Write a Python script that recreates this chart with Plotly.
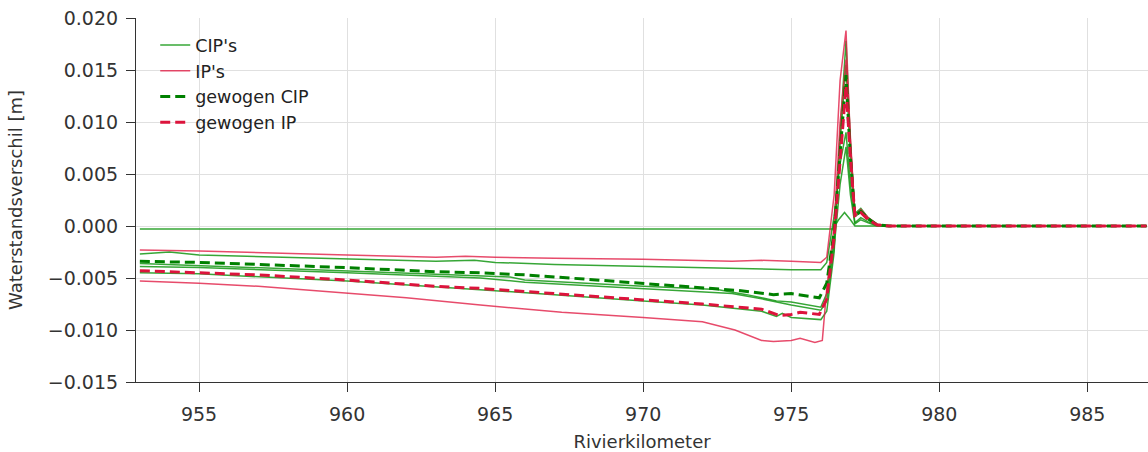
import plotly.graph_objects as go

# ---- data ----
tail_x = [976.2, 976.45, 976.65, 976.85, 977.0, 977.15, 977.35, 977.6, 977.9, 978.3, 980.0, 987.0]

# CIP's (green solid lines)
g1_x = [953.0, 960.0, 970.0, 976.4, 976.6, 976.8, 977.0, 977.15, 977.4, 978.0, 987.0]
g1_y = [-0.0003, -0.0003, -0.0003, -0.0003, 0.0006, 0.0013, 0.0006, -0.0000, 0.0000, 0.0000, 0.0000]

g2_x = [953.0, 954.0, 955.0, 960.0, 963.0, 964.3, 965.0, 967.0, 970.0, 973.0, 975.0, 976.0] + tail_x
g2_y = [-0.0027, -0.0025, -0.0028, -0.0032, -0.0034, -0.0033, -0.0035, -0.0037, -0.0039, -0.0041, -0.0042, -0.0042,
        -0.0035, 0.0010, 0.0060, 0.0090, 0.0040, 0.0003, 0.0008, 0.0004, 0.0001, 0.0000, 0.0000, 0.0000]

g3_x = [953.0, 955.0, 960.0, 964.5, 965.5, 966.0, 970.0, 972.5, 973.5, 974.5, 975.0, 976.0] + tail_x
g3_y = [-0.0036, -0.0038, -0.0043, -0.0048, -0.0049, -0.0052, -0.0058, -0.0061, -0.0066, -0.0072, -0.0073, -0.0078,
        -0.0065, -0.0010, 0.0080, 0.0155, 0.0060, 0.0009, 0.0013, 0.0006, 0.0001, 0.0000, 0.0000, 0.0000]

g4_x = [953.0, 955.0, 960.0, 964.5, 966.0, 970.0, 973.0, 974.0, 975.0, 976.0] + tail_x
g4_y = [-0.0039, -0.0040, -0.0045, -0.0050, -0.0054, -0.0060, -0.0065, -0.0070, -0.0076, -0.0081,
        -0.0072, -0.0020, 0.0040, 0.0076, 0.0030, 0.0002, 0.0006, 0.0003, 0.0000, 0.0000, 0.0000, 0.0000]

g5_x = [953.0, 955.0, 960.0, 964.5, 967.0, 970.0, 972.0, 974.0, 974.5, 974.7, 975.0, 976.0] + tail_x
g5_y = [-0.0045, -0.0046, -0.0053, -0.0061, -0.0066, -0.0072, -0.0076, -0.0082, -0.0087, -0.0084, -0.0088, -0.0090,
        -0.0082, -0.0025, 0.0090, 0.0178, 0.0080, 0.0012, 0.0017, 0.0008, 0.0001, 0.0000, 0.0000, 0.0000]

# IP's (red solid lines)
r1_x = [953.0, 955.0, 960.0, 963.0, 964.0, 965.0, 967.0, 970.0, 973.0, 974.0, 975.0, 976.0] + tail_x
r1_y = [-0.0023, -0.0024, -0.0028, -0.0030, -0.0029, -0.0030, -0.0031, -0.0032, -0.0034, -0.0033, -0.0034, -0.0035,
        -0.0030, 0.0030, 0.0140, 0.0188, 0.0080, 0.0010, 0.0016, 0.0008, 0.0002, 0.0000, 0.0000, 0.0000]

r2_x = [953.0, 955.0, 957.0, 960.0, 962.0, 964.5, 967.25, 970.0, 972.0, 973.1, 974.0, 974.4, 975.0, 975.3, 975.8, 976.05] + tail_x
r2_y = [-0.0053, -0.0055, -0.0058, -0.0065, -0.0069, -0.0076, -0.0083, -0.0088, -0.0092, -0.0100, -0.0110, -0.0111,
        -0.0110, -0.0108, -0.0112, -0.0110,
        -0.0060, 0.0000, 0.0100, 0.0160, 0.0080, 0.0010, 0.0014, 0.0007, 0.0001, 0.0000, 0.0000, 0.0000]

# weighted averages (dashed)
gw_x = [953.0, 955.0, 960.0, 963.0, 964.5, 966.0, 968.0, 970.0, 972.0, 973.2, 974.4, 975.0, 975.95] + tail_x
gw_y = [-0.0034, -0.0035, -0.0040, -0.0044, -0.0045, -0.0047, -0.0051, -0.0055, -0.0059, -0.0062, -0.0066, -0.0065, -0.0069,
        -0.0055, -0.0005, 0.0070, 0.0145, 0.0065, 0.0010, 0.0014, 0.0007, 0.0001, 0.0000, 0.0000, 0.0000]

rw_x = [953.0, 955.0, 957.0, 960.0, 963.0, 964.5, 967.0, 970.0, 972.0, 974.0, 974.6, 975.0, 975.3, 975.95] + tail_x
rw_y = [-0.0043, -0.0045, -0.0047, -0.0052, -0.0058, -0.0060, -0.0065, -0.0071, -0.0075, -0.0080, -0.0086, -0.0085, -0.0083, -0.0085,
        -0.0070, -0.0010, 0.0060, 0.0135, 0.0065, 0.0010, 0.0013, 0.0006, 0.0001, 0.0000, 0.0000, 0.0000]

x_ticks = [955, 960, 965, 970, 975, 980, 985]
y_ticks = [-0.015, -0.010, -0.005, 0.000, 0.005, 0.010, 0.015, 0.020]

# ---- figure ----
GREEN = "rgba(20,150,20,0.85)"
RED = "rgba(225,30,70,0.8)"
fig = go.Figure()

green_lines = [(g1_x, g1_y), (g2_x, g2_y), (g3_x, g3_y), (g4_x, g4_y), (g5_x, g5_y)]
for i, (xs, ys) in enumerate(green_lines):
    fig.add_trace(go.Scatter(x=xs, y=ys, mode="lines", name="CIP's", legendgroup="cip",
                             showlegend=(i == 0), line=dict(color=GREEN, width=1.5)))

red_lines = [(r1_x, r1_y), (r2_x, r2_y)]
for i, (xs, ys) in enumerate(red_lines):
    fig.add_trace(go.Scatter(x=xs, y=ys, mode="lines", name="IP's", legendgroup="ip",
                             showlegend=(i == 0), line=dict(color=RED, width=1.5)))

fig.add_trace(go.Scatter(x=gw_x, y=gw_y, mode="lines", name="gewogen CIP",
                         line=dict(color="green", width=3, dash="10px,5px")))
fig.add_trace(go.Scatter(x=rw_x, y=rw_y, mode="lines", name="gewogen IP",
                         line=dict(color="crimson", width=3, dash="10px,5px")))

axis_font = dict(family="DejaVu Sans", size=19, color="#333333")
title_font = dict(family="DejaVu Sans", size=18, color="#333333")
fig.update_layout(
    width=1148, height=452,
    margin=dict(l=136, r=0, t=18, b=70),
    paper_bgcolor="white", plot_bgcolor="white",
    font=dict(family="DejaVu Sans", size=18, color="#333333"),
    showlegend=True,
    legend=dict(x=0.019, y=0.975, xanchor="left", yanchor="top",
                bgcolor="rgba(255,255,255,0)", font=dict(family="DejaVu Sans", size=17.5, color="#222222"),
                tracegroupgap=0, itemwidth=30),
    xaxis=dict(range=[952.87, 987.05], tickvals=x_ticks, ticktext=[str(v) for v in x_ticks],
               showgrid=True, gridcolor="#e0e0e0", gridwidth=1,
               showline=True, linecolor="#333333", linewidth=1.2,
               ticks="outside", ticklen=9, tickcolor="#333333", tickfont=axis_font,
               ticklabelstandoff=6,
               zeroline=False,
               title=dict(text="Rivierkilometer", font=title_font, standoff=12)),
    yaxis=dict(range=[-0.015, 0.020], tickvals=y_ticks, tickformat=".3f",
               showgrid=True, gridcolor="#e0e0e0", gridwidth=1,
               showline=True, linecolor="#333333", linewidth=1.2,
               ticks="outside", ticklen=9, tickcolor="#333333", tickfont=axis_font,
               ticklabelstandoff=4,
               zeroline=False,
               title=dict(text="Waterstandsverschil [m]", font=title_font, standoff=20)),
)

fig.write_html("out.html")
